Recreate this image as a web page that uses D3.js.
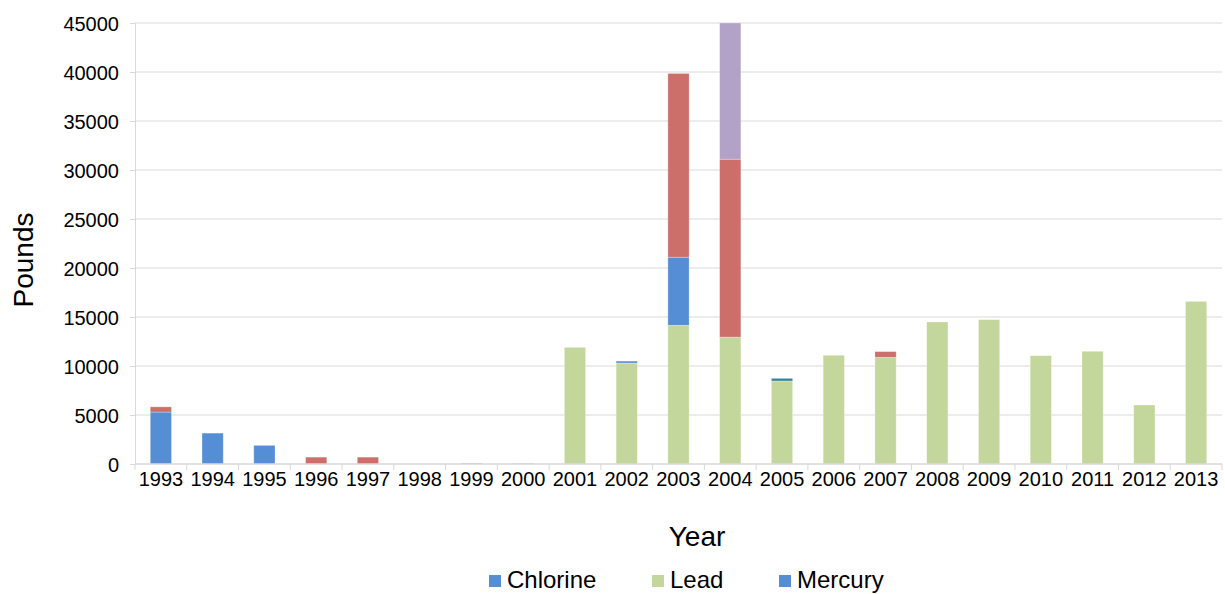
<!DOCTYPE html>
<html>
<head>
<meta charset="utf-8">
<script src="https://cdn.jsdelivr.net/npm/d3@7"></script>
<style>
  html, body { margin: 0; padding: 0; background: #fff; }
  svg { display: block; font-family: "Liberation Sans", Arial, sans-serif; }
</style>
</head>
<body>
<svg id="chart" width="1225" height="594"></svg>
<script>
const years = ["1993","1994","1995","1996","1997","1998","1999","2000","2001","2002","2003","2004","2005","2006","2007","2008","2009","2010","2011","2012","2013"];
const chlorine = [5300, 3150, 1900, 0, 0, 0, 0, 50, 0, 0, 0, 0, 0, 0, 0, 0, 0, 0, 0, 0, 0];
const lead     = [0, 0, 0, 0, 0, 0, 0, 0, 11900, 10300, 14150, 12950, 8470, 11090, 10890, 14490, 14730, 11050, 11500, 6020, 16590];
const mercury  = [0, 0, 0, 0, 0, 0, 0, 0, 0, 200, 6950, 0, 0, 0, 0, 0, 0, 0, 0, 0, 0];
const seriesRed    = [530, 0, 0, 700, 700, 0, 80, 0, 0, 0, 18750, 18150, 0, 0, 580, 0, 0, 0, 0, 0, 0];
const seriesTeal   = [0, 0, 0, 0, 0, 0, 0, 0, 0, 0, 0, 0, 270, 0, 0, 0, 0, 0, 0, 0, 0];
const seriesPurple = [0, 0, 0, 0, 0, 0, 0, 0, 0, 0, 0, 13900, 0, 0, 0, 0, 0, 0, 0, 0, 0];
const yTicks = [0, 5000, 10000, 15000, 20000, 25000, 30000, 35000, 40000, 45000];
const seriesNames = ["Chlorine", "Lead", "Mercury", "Series4", "Series5", "Series6"];
const seriesValues = [chlorine, lead, mercury, seriesRed, seriesTeal, seriesPurple];
const seriesColors = ["#558ED5", "#C3D69B", "#558ED5", "#CC6E6A", "#31859C", "#B2A2C7"];
const legendNames = ["Chlorine", "Lead", "Mercury"];

const svg = d3.select("#chart");
const margin = {left: 135, right: 3, top: 23, bottom: 130};
const W = 1225, H = 594;
const plotW = W - margin.left - margin.right;
const plotH = H - margin.top - margin.bottom;

const rows = years.map((y, i) => {
  const r = {year: y};
  seriesNames.forEach((n, k) => r[n] = seriesValues[k][i]);
  return r;
});
const stack = d3.stack().keys(seriesNames)(rows);

const p = 0.59;
const x = d3.scaleBand().domain(years).range([margin.left, margin.left + plotW]).paddingInner(p).paddingOuter(p / 2);
const y = d3.scaleLinear().domain([0, 45000]).range([margin.top + plotH, margin.top]);

// gridlines
svg.append("g").selectAll("line").data(yTicks.filter(d => d > 0)).join("line")
  .attr("x1", margin.left).attr("x2", margin.left + plotW)
  .attr("y1", d => y(d)).attr("y2", d => y(d))
  .attr("stroke", "#d9d9d9").attr("stroke-width", 1);

// clip
svg.append("clipPath").attr("id", "plotclip").append("rect")
  .attr("x", margin.left).attr("y", margin.top).attr("width", plotW).attr("height", plotH);

// bars
const g = svg.append("g").attr("clip-path", "url(#plotclip)");
stack.forEach((layer, k) => {
  g.append("g").attr("fill", seriesColors[k]).selectAll("rect")
    .data(layer.filter(d => d[1] - d[0] > 0)).join("rect")
    .attr("x", d => x(d.data.year))
    .attr("width", x.bandwidth())
    .attr("y", d => y(d[1]))
    .attr("height", d => y(d[0]) - y(d[1]))
    .attr("stroke", "#ffffff").attr("stroke-opacity", 0.35).attr("stroke-width", 0.8);
});

// y axis
const yAxis = d3.axisLeft(y).tickValues(yTicks).tickSize(5).tickPadding(11).tickFormat(d3.format("d"));
const ya = svg.append("g").attr("transform", `translate(${margin.left},0)`).call(yAxis);
ya.select(".domain").attr("stroke", "#d9d9d9");
ya.selectAll(".tick line").attr("stroke", "#d9d9d9");
ya.selectAll("text").attr("font-size", 20).attr("fill", "#000").attr("font-family", "Liberation Sans, Arial, sans-serif").attr("dy", "0.35em");

// x axis
const xAxis = d3.axisBottom(x).tickSize(0).tickPadding(8);
const xa = svg.append("g").attr("transform", `translate(0,${margin.top + plotH})`).call(xAxis);
xa.select(".domain").remove();
xa.selectAll("text").attr("font-size", 20).attr("fill", "#000").attr("font-family", "Liberation Sans, Arial, sans-serif");
svg.append("line").attr("x1", margin.left).attr("x2", margin.left + plotW)
  .attr("y1", y(0)).attr("y2", y(0)).attr("stroke", "#d9d9d9").attr("stroke-width", 1.5);
const step = x.step();
svg.append("g").selectAll("line").data(d3.range(years.length + 1)).join("line")
  .attr("x1", i => margin.left + i * step).attr("x2", i => margin.left + i * step)
  .attr("y1", y(0)).attr("y2", y(0) + 6)
  .attr("stroke", "#d9d9d9");

// axis titles
svg.append("text").attr("x", 697).attr("y", 546).attr("text-anchor", "middle")
  .attr("font-size", 28).attr("fill", "#000").text("Year");
svg.append("text").attr("transform", "translate(33,260) rotate(-90)").attr("text-anchor", "middle")
  .attr("font-size", 28).attr("fill", "#000").text("Pounds");

// legend
const legendX = [489, 652, 779];
const lg = svg.append("g");
legendNames.forEach((n, i) => {
  const k = seriesNames.indexOf(n);
  lg.append("rect").attr("x", legendX[i]).attr("y", 575).attr("width", 12).attr("height", 12).attr("fill", seriesColors[k]);
  lg.append("text").attr("x", legendX[i] + 18).attr("y", 588).attr("font-size", 24).attr("fill", "#000").text(n);
});
</script>
</body>
</html>
